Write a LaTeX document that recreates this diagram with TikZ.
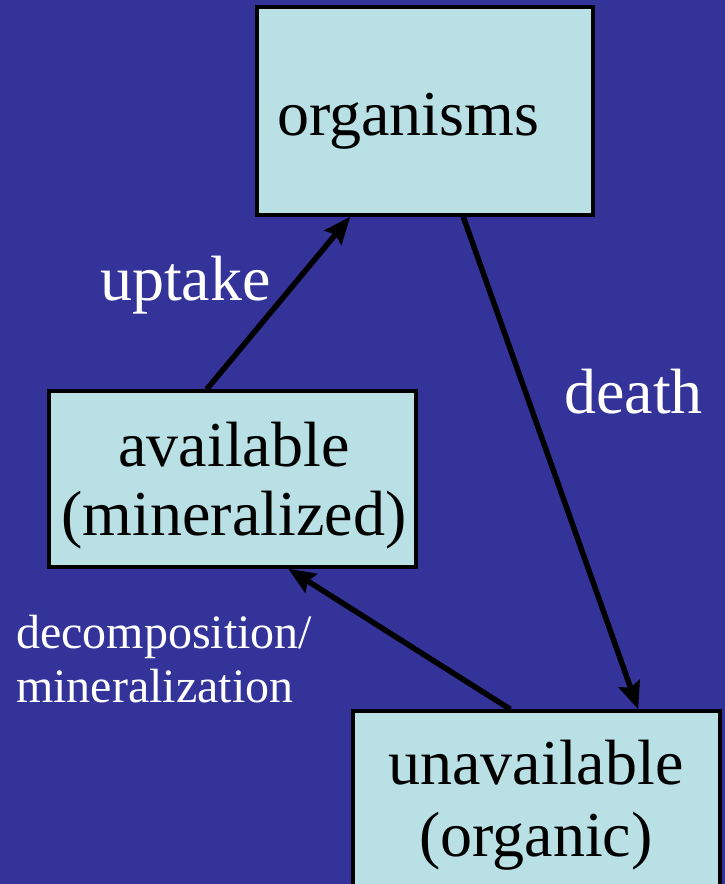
\documentclass[tikz,border=0pt]{standalone}
\usepackage{fontspec}
\setmainfont{Liberation Serif}
\usetikzlibrary{arrows.meta}
\definecolor{bgblue}{RGB}{51,51,153}
\definecolor{boxcyan}{RGB}{185,224,228}
\begin{document}
\begin{tikzpicture}[x=1pt,y=-1pt,
  box/.style={draw=black, line width=3.5pt, fill=boxcyan, rectangle, inner sep=0pt},
  big/.style={font=\fontsize{64}{72}\selectfont, inner sep=0pt},
  small/.style={font=\fontsize{48}{54}\selectfont, inner sep=0pt, text=white},
  flow/.style={line width=5.5pt, -{Stealth[length=27pt,width=22pt,inset=4pt]}}]
\useasboundingbox (0,0) rectangle (725,884);
\clip (0,0) rectangle (725,884);
\fill[bgblue] (0,0) rectangle (725,884);
% boxes
\node[box, minimum width=336pt, minimum height=208pt] (org) at (425,111) {};
\node[box, minimum width=367pt, minimum height=176pt] (avail) at (232.5,479) {};
\node[box, minimum width=367pt, minimum height=200pt] (unav) at (536.5,811) {};
% box texts
\node[big, anchor=base west] (orgT) at (277,135) {organisms};
\node[big, anchor=base] (avT1) at (234,466) {available};
\node[big, anchor=base] (avT2) at (234,535) {(mineralized)};
\node[big, anchor=base] (unT1) at (536,784) {unavailable};
\node[big, anchor=base] (unT2) at (536,856) {(organic)};
% labels
\node[big, text=white, anchor=base west] (upL) at (100,300) {uptake};
\node[big, text=white, anchor=base west] (deL) at (564,413) {death};
\node[small, anchor=base west] (dcL1) at (16,648) {decomposition/};
\node[small, anchor=base west] (dcL2) at (16,702) {mineralization};
% arrow end points on box borders
\coordinate (u1) at ([xshift=159.5pt]avail.north west);
\coordinate (u2) at ([xshift=95pt]org.south west);
\coordinate (d1) at ([xshift=208pt]org.south west);
\coordinate (d2) at ([xshift=287pt]unav.north west);
\coordinate (m1) at ([xshift=159pt]unav.north west);
\coordinate (m2) at ([xshift=241pt]avail.south west);
\draw[flow] (u1) -- (u2);
\draw[flow] (d1) -- (d2);
\draw[flow] (m1) -- (m2);
\end{tikzpicture}
\end{document}
